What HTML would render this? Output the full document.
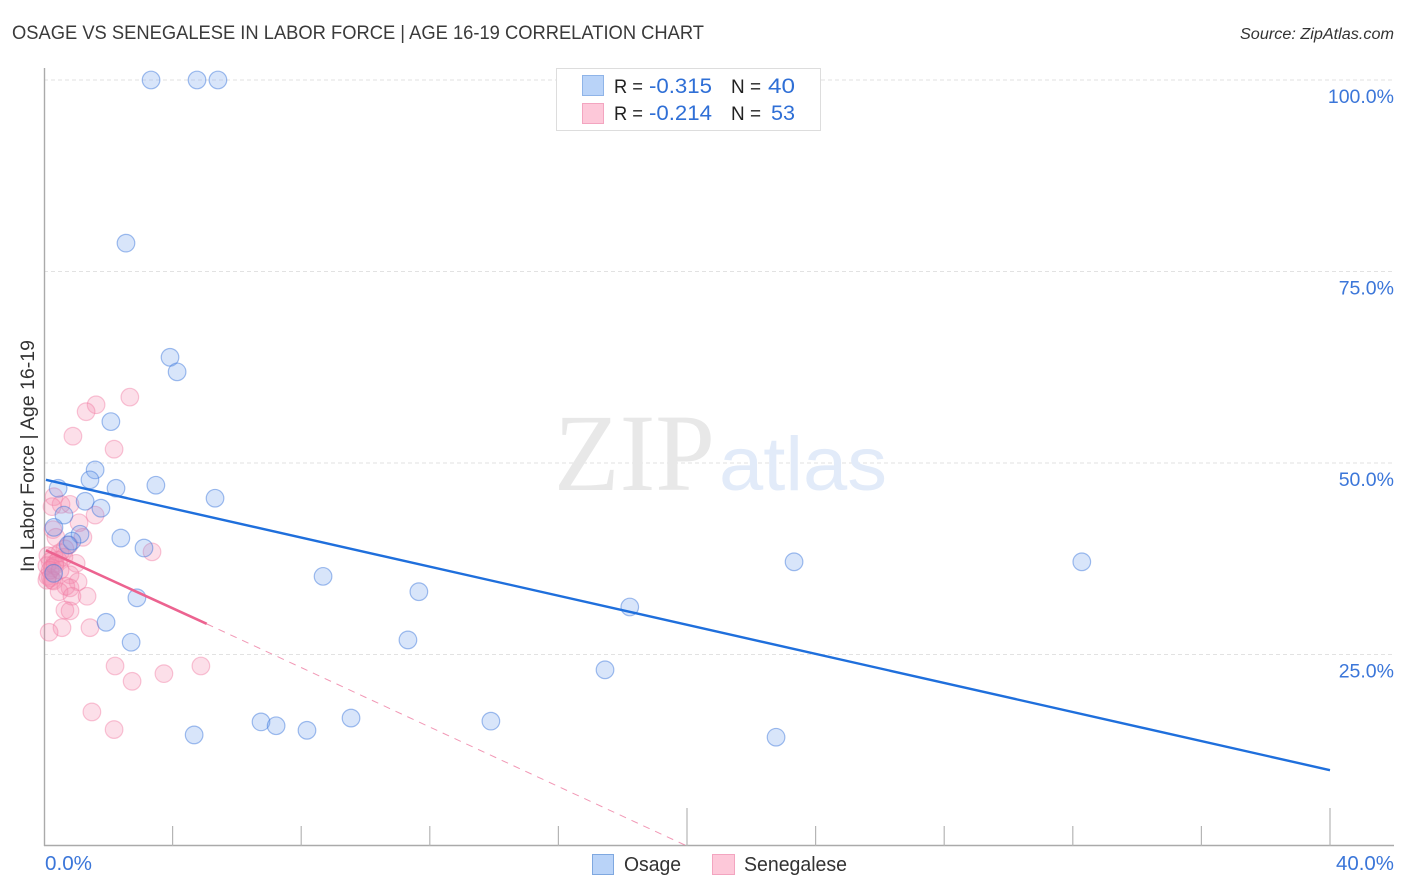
<!DOCTYPE html>
<html lang="en">
<head>
<meta charset="utf-8">
<title>Osage vs Senegalese in Labor Force | Age 16-19 Correlation Chart</title>
<style>
html,body{margin:0;padding:0;background:#fff;width:1406px;height:892px;overflow:hidden}
svg{display:block;font-family:"Liberation Sans",sans-serif}
</style>
</head>
<body>
<svg id="chart" xmlns="http://www.w3.org/2000/svg" width="1406" height="892" viewBox="0 0 1406 892">
  <text x="12" y="39" font-size="19.5" fill="#3a3a3a" textLength="692" lengthAdjust="spacingAndGlyphs">OSAGE VS SENEGALESE IN LABOR FORCE | AGE 16-19 CORRELATION CHART</text>
  <text x="1394" y="39" font-size="15.5" font-style="italic" fill="#333" text-anchor="end" textLength="154" lengthAdjust="spacingAndGlyphs">Source: ZipAtlas.com</text>

  <g id="grid"></g>

  <text x="554" y="490" font-family="'Liberation Serif',serif" font-size="110" fill="#e8e8e8" textLength="161" lengthAdjust="spacingAndGlyphs">ZIP</text>
  <text x="719" y="490" font-size="76" fill="#e2ebf9" textLength="168" lengthAdjust="spacingAndGlyphs">atlas</text>

  <g id="axes"></g>
  <g id="pink-points"></g>
  <g id="blue-points"></g>
  <g id="trends"></g>
  <g id="labels"></g>

  <text transform="translate(34,456) rotate(-90)" font-size="19" fill="#333" text-anchor="middle" textLength="232" lengthAdjust="spacingAndGlyphs">In Labor Force | Age 16-19</text>

  <g>
    <rect x="556.5" y="68.5" width="264" height="62" fill="#fff" stroke="#ddd" stroke-width="1"/>
    <rect x="582.5" y="75.5" width="21" height="20" fill="#b9d3f8" stroke="#8fb4e8"/>
    <rect x="582.5" y="103.5" width="21" height="20" fill="#fdc8d9" stroke="#f3a5c0"/>
    <text x="614" y="93" font-size="19.5" fill="#222" textLength="29" lengthAdjust="spacingAndGlyphs">R =</text>
    <text x="649" y="93" font-size="21" fill="#2f6fd6" textLength="63" lengthAdjust="spacingAndGlyphs">-0.315</text>
    <text x="731" y="93" font-size="19.5" fill="#222" textLength="30" lengthAdjust="spacingAndGlyphs">N =</text>
    <text x="795" y="93" font-size="21" fill="#2f6fd6" text-anchor="end" textLength="27" lengthAdjust="spacingAndGlyphs">40</text>
    <text x="614" y="120" font-size="19.5" fill="#222" textLength="29" lengthAdjust="spacingAndGlyphs">R =</text>
    <text x="649" y="120" font-size="21" fill="#2f6fd6" textLength="63" lengthAdjust="spacingAndGlyphs">-0.214</text>
    <text x="731" y="120" font-size="19.5" fill="#222" textLength="30" lengthAdjust="spacingAndGlyphs">N =</text>
    <text x="795" y="120" font-size="21" fill="#2f6fd6" text-anchor="end" textLength="24" lengthAdjust="spacingAndGlyphs">53</text>
  </g>

  <g>
    <rect x="592.5" y="854.5" width="21" height="20" fill="#b9d3f8" stroke="#7fa8e0"/>
    <text x="624" y="871" font-size="20" fill="#333" textLength="57" lengthAdjust="spacingAndGlyphs">Osage</text>
    <rect x="712.5" y="854.5" width="22" height="20" fill="#fdc8d9" stroke="#f3a5c0"/>
    <text x="744" y="871" font-size="20" fill="#333" textLength="103" lengthAdjust="spacingAndGlyphs">Senegalese</text>
  </g>
</svg>
<script>
var osageX = [3.33,4.76,5.41,2.55,3.92,4.14,2.08,1.59,1.43,0.44,2.24,3.48,1.28,5.32,1.77,0.62,0.31,2.39,1.12,0.87,0.75,3.11,8.68,2.89,11.66,1.93,2.71,11.32,18.22,17.45,23.33,32.28,4.67,6.75,7.22,8.18,9.55,13.9,22.77,0.3];
var osageY = [100,100,100,78.7,63.8,61.9,55.4,49.1,47.8,46.7,46.7,47.1,45.0,45.4,44.1,43.2,41.6,40.2,40.7,39.8,39.3,38.9,35.2,32.4,33.2,29.2,26.6,26.9,31.2,23.0,37.1,37.1,14.5,16.2,15.7,15.1,16.7,16.3,14.2,35.6];
var senegaleseX = [2.67,1.62,1.31,0.9,2.18,0.31,0.53,0.81,0.25,1.59,1.09,0.28,1.21,0.37,3.36,0.78,0.65,0.5,0.31,0.12,0.62,0.19,0.44,0.34,1.0,0.09,0.25,0.81,0.12,0.2,1.06,0.25,0.3,0.68,0.81,0.47,0.87,1.34,0.65,0.81,0.56,1.43,0.16,2.21,4.88,3.73,2.74,1.49,2.18,0.34,0.09,0.19,0.5];
var senegaleseY = [58.6,57.6,56.7,53.5,51.8,45.6,44.6,44.6,44.3,43.2,42.2,41.3,40.3,40.3,38.4,39.3,38.8,38.3,37.9,37.9,37.7,37.1,37.3,36.9,36.9,36.6,36.3,35.4,35.2,35.0,34.5,34.7,34.6,33.9,33.7,33.2,32.6,32.6,30.8,30.7,28.5,28.5,27.9,23.5,23.5,22.5,21.5,17.5,15.2,36.6,34.7,36.0,36.0];
var osageTrendX = [0.06,40];
var osageTrendY = [47.8,9.9];
var senegaleseTrendX = [0.06,5.06];
var senegaleseTrendY = [38.6,29.0];
var senegaleseDashX = [5.06,20.0];
var senegaleseDashY = [29.0,0];
var gridValues = [100,75,50,25];
var yTickLabels = ["100.0%","75.0%","50.0%","25.0%"];
var xTickValues = [0,4,8,12,16,20,24,28,32,36,40];
var xMajorTicks = [20,40];
var xEndValues = [0,40];
var xEndLabels = ["0.0%","40.0%"];

function xScale(v){ return 44 + v * 32.15; }
function yScale(v){ return 846 - v * 7.66; }
var NS = "http://www.w3.org/2000/svg";
function make(tag, parent, attrs){
  var el = document.createElementNS(NS, tag);
  for (var k in attrs) el.setAttribute(k, attrs[k]);
  parent.appendChild(el);
  return el;
}

var grid = document.getElementById("grid");
gridValues.forEach(function(v){
  var l = make("line", grid, {x1:44, x2:1394, y1:yScale(v), y2:yScale(v), stroke:"#e2e2e2", "stroke-width":1, "stroke-dasharray":"4 3"});
  
  
});

var axes = document.getElementById("axes");
var yAxis = make("line", axes, {x1:44.5, x2:44.5, y1:68, y2:846, stroke:"#aaa", "stroke-width":1.4});


var xAxis = make("line", axes, {x1:44, x2:1394, y1:845.5, y2:845.5, stroke:"#aaa", "stroke-width":1.4});


xTickValues.forEach(function(v){
  if (v === 0) return;
  var top = xMajorTicks.indexOf(v) >= 0 ? 808 : 826;
  var t = make("line", axes, {x1:xScale(v), x2:xScale(v), y1:top, y2:846, stroke:"#b5b5b5", "stroke-width":1.2});
  
  
});

function drawPoints(groupId, xs, ys, fill, stroke, name){
  var g = document.getElementById(groupId);
  xs.forEach(function(x, i){
    var c = make("circle", g, {cx:xScale(x), cy:yScale(ys[i]), r:8.8, fill:fill, stroke:stroke, "stroke-width":1.2});
    
    
  });
}
drawPoints("pink-points", senegaleseX, senegaleseY, "rgba(246,140,175,0.28)", "rgba(240,120,160,0.42)", "senegalese-point");
drawPoints("blue-points", osageX, osageY, "rgba(110,160,235,0.27)", "rgba(60,120,220,0.48)", "osage-point");

var trends = document.getElementById("trends");
var dash = make("line", trends, {x1:xScale(senegaleseDashX[0]), y1:yScale(senegaleseDashY[0]), x2:xScale(senegaleseDashX[1]), y2:yScale(senegaleseDashY[1]), stroke:"#ec6c96", "stroke-width":1, "stroke-dasharray":"7 6", opacity:0.7});


var pinkTrend = make("line", trends, {x1:xScale(senegaleseTrendX[0]), y1:yScale(senegaleseTrendY[0]), x2:xScale(senegaleseTrendX[1]), y2:yScale(senegaleseTrendY[1]), stroke:"#ec6390", "stroke-width":2.6});


var blueTrend = make("line", trends, {x1:xScale(osageTrendX[0]), y1:yScale(osageTrendY[0]), x2:xScale(osageTrendX[1]), y2:yScale(osageTrendY[1]), stroke:"#1f6fdc", "stroke-width":2.4});



var labels = document.getElementById("labels");
gridValues.forEach(function(v, i){
  var t = make("text", labels, {x:1394, y:yScale(v)+23, "text-anchor":"end", "font-size":19.5, fill:"#3b76d9"});
  
  
  t.textContent = yTickLabels[i];
});
xEndValues.forEach(function(v, i){
  var t = make("text", labels, {x: i === 0 ? xScale(v) + 1 : 1394, y:870, "text-anchor": i === 0 ? "start" : "end", "font-size":20, fill:"#3b76d9", textLength: i === 0 ? 47 : 58, lengthAdjust:"spacingAndGlyphs"});
  
  
  t.textContent = xEndLabels[i];
});
</script>
</body>
</html>
